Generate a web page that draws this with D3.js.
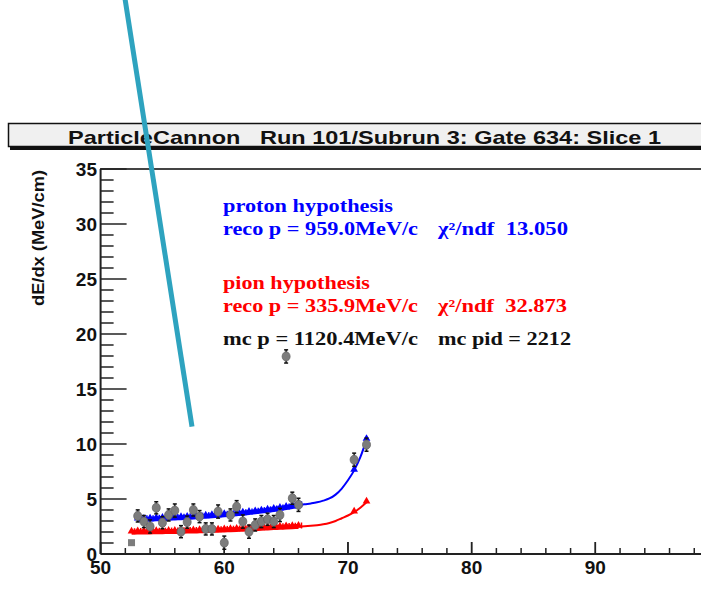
<!DOCTYPE html>
<html>
<head>
<meta charset="utf-8">
<script src="https://cdn.jsdelivr.net/npm/d3@7"></script>
<style>
  html, body { margin: 0; padding: 0; background: #fff; }
  svg { display: block; }
  svg text { white-space: pre; }
</style>
</head>
<body>
<svg id="chart" width="701" height="599"></svg>
<script>
// ---------------- data ----------------
const titleText = "ParticleCannon   Run 101/Subrun 3: Gate 634: Slice 1";
const yAxisTitle = "dE/dx (MeV/cm)";
const xMajorTicks = [50, 60, 70, 80, 90, 100];
const xTickLabels = ["50", "60", "70", "80", "90"];
const yMajorTicks = [0, 5, 10, 15, 20, 25, 30, 35];

// measured hits (range, dE/dx, error)
const hitX = [52.5, 53, 53.5, 54, 54.5, 55, 55.5, 56, 56.5, 57, 57.5, 58, 58.5, 59, 59.5, 60,
              60.5, 61, 61.5, 62, 62.5, 63, 63.5, 64, 64.5, 65, 65.5, 66, 70.5, 71.5];
const hitY = [1.03, 3.46, 2.95, 2.5, 4.2, 2.85, 3.55, 3.95, 2.03, 2.9, 4.0, 3.4, 2.28, 2.28, 3.86, 1.03,
              3.55, 4.3, 2.95, 2.03, 2.64, 2.95, 3.16, 2.95, 3.55, 17.96, 5.07, 4.47, 8.57, 9.94];
const hitErr = [0, 0.55, 0.55, 0.6, 0.55, 0.55, 0.55, 0.6, 0.55, 0.55, 0.55, 0.55, 0.55, 0.55, 0.6, 0.6,
                0.55, 0.55, 0.6, 0.6, 0.55, 0.55, 0.55, 0.55, 0.6, 0.6, 0.55, 0.6, 0.6, 0.6];
const hitShape = ["square"]; // first hit drawn as square, rest as circles

// proton hypothesis curve
const protonX = [53, 53.5, 54, 54.5, 55, 55.5, 56, 56.5, 57, 57.5, 58, 58.5, 59, 59.5, 60, 60.5, 61, 61.5,
                 62, 62.5, 63, 63.5, 64, 64.5, 65, 65.5, 66, 66.5, 67, 67.5, 68, 68.5, 69, 69.5, 70, 70.5, 71, 71.5];
const protonY = [3.15, 3.15, 3.17, 3.2, 3.22, 3.25, 3.28, 3.3, 3.33, 3.37, 3.4, 3.44, 3.48, 3.52, 3.56, 3.61, 3.66, 3.71,
                 3.77, 3.83, 3.9, 3.97, 4.05, 4.13, 4.22, 4.32, 4.43, 4.52, 4.6, 4.7, 4.85, 5.05, 5.4, 5.95, 6.7, 7.6, 8.8, 10.4];
// pion hypothesis curve
const pionX = [52.5, 53, 53.5, 54, 54.5, 55, 55.5, 56, 56.5, 57, 57.5, 58, 58.5, 59, 59.5, 60, 60.5, 61, 61.5,
               62, 62.5, 63, 63.5, 64, 64.5, 65, 65.5, 66, 66.5, 67, 67.5, 68, 68.5, 69, 69.5, 70, 70.5, 71, 71.5];
const pionY = [1.98, 2.0, 2.0, 2.01, 2.02, 2.03, 2.04, 2.05, 2.06, 2.08, 2.09, 2.11, 2.13, 2.15, 2.17, 2.19, 2.21, 2.23, 2.26,
               2.28, 2.31, 2.34, 2.37, 2.4, 2.43, 2.46, 2.48, 2.5, 2.52, 2.56, 2.62, 2.7, 2.82, 3.0, 3.25, 3.5, 3.8, 4.2, 4.7];
// x positions where the hypotheses carry a marker
const fitMarkerX = [52.5, 53, 53.5, 54, 54.5, 55, 55.5, 56, 56.5, 57, 57.5, 58, 58.5, 59, 59.5, 60,
                    60.5, 61, 61.5, 62, 62.5, 63, 63.5, 64, 64.5, 65, 65.5, 66, 70.5, 71.5];
const denseEndX = 66;

// annotation text
const protonLines = ["proton hypothesis", "reco p = 959.0MeV/c", "χ²/ndf  13.050"];
const pionLines = ["pion hypothesis", "reco p = 335.9MeV/c", "χ²/ndf  32.873"];
const mcLines = ["mc p = 1120.4MeV/c", "mc pid = 2212"];

// pointer line (data coords, drawn beyond the frame)
const pointerX = [51.97, 57.39];
const pointerY = [50.5, 11.58];

// ---------------- drawing ----------------
const svg = d3.select("#chart");
const W = 701, H = 599;
svg.append("rect").attr("width", W).attr("height", H).attr("fill", "#fff");

const x = d3.scaleLinear().domain([50, 100]).range([100.6, 719]);
const y = d3.scaleLinear().domain([0, 35]).range([554, 169]);

// title pave
const tb = svg.append("g");
tb.append("rect").attr("x", 10).attr("y", 126).attr("width", 720).attr("height", 24).attr("fill", "#111");
tb.append("rect").attr("x", 8.5).attr("y", 123.5).attr("width", 720).attr("height", 23)
  .attr("fill", "#f0f0f0").attr("stroke", "#111").attr("stroke-width", 1.5);
tb.append("text").attr("x", 68).attr("y", 143.5)
  .attr("font-family", "Arial, 'Liberation Sans', sans-serif").attr("font-weight", "bold")
  .attr("font-size", 19).attr("fill", "#111")
  .attr("textLength", 593).attr("lengthAdjust", "spacingAndGlyphs")
  .text(titleText);

// frame top
svg.append("line").attr("x1", 100).attr("x2", W).attr("y1", 169).attr("y2", 169)
  .attr("stroke", "#444").attr("stroke-width", 2);

// axes
const axG = svg.append("g").attr("stroke", "#222");
axG.append("line").attr("x1", x(50)).attr("x2", x(50)).attr("y1", y(0)).attr("y2", y(35)).attr("stroke-width", 2);
axG.append("line").attr("x1", x(50)).attr("x2", W).attr("y1", y(0)).attr("y2", y(0)).attr("stroke-width", 2);

// y ticks
const yMinor = d3.range(0, 36, 1);
axG.selectAll("line.ytick").data(yMinor).join("line")
  .attr("x1", x(50)).attr("x2", d => x(50) + (d % 5 === 0 ? 26 : 13))
  .attr("y1", d => y(d)).attr("y2", d => y(d)).attr("stroke-width", 1.5);
// x ticks
axG.selectAll("line.xtick").data(d3.range(50, 101, 2).concat(xMajorTicks)).join("line")
  .attr("x1", d => x(d)).attr("x2", d => x(d))
  .attr("y1", y(0)).attr("y2", d => y(0) - (d % 10 === 0 ? 12 : 6)).attr("stroke-width", 1.5);

// tick labels
const lblFont = "Arial, 'Liberation Sans', sans-serif";
svg.selectAll("text.ylbl").data(yMajorTicks).join("text")
  .attr("x", 97).attr("y", d => y(d)).attr("dy", "0.36em")
  .attr("text-anchor", "end").attr("font-family", lblFont).attr("font-weight", "bold")
  .attr("font-size", 19).attr("fill", "#111").text(d => d);
svg.selectAll("text.xlbl").data(xTickLabels).join("text")
  .attr("x", d => x(+d)).attr("y", 574)
  .attr("text-anchor", "middle").attr("font-family", lblFont).attr("font-weight", "bold")
  .attr("font-size", 19).attr("fill", "#111").text(d => d);

// y axis title
svg.append("text").attr("transform", "translate(44,238) rotate(-90)")
  .attr("text-anchor", "middle").attr("font-family", lblFont).attr("font-weight", "bold")
  .attr("font-size", 16).attr("fill", "#111")
  .attr("textLength", 136).attr("lengthAdjust", "spacingAndGlyphs")
  .text(yAxisTitle);

// hypothesis curves
const line = d3.line().x(d => x(d[0])).y(d => y(d[1])).curve(d3.curveMonotoneX);
function drawHyp(xs, ys, color) {
  const pts = xs.map((v, i) => [v, ys[i]]);
  const g = svg.append("g");
  g.append("path").datum(pts).attr("d", line).attr("fill", "none")
    .attr("stroke", color).attr("stroke-width", 2);
  g.append("path").datum(pts.filter(p => p[0] <= denseEndX)).attr("d", line).attr("fill", "none")
    .attr("stroke", color).attr("stroke-width", 5);
  const tri = d3.symbol().type(d3.symbolTriangle).size(26);
  const mk = pts.filter(p => fitMarkerX.includes(p[0]));
  g.selectAll("path.mk").data(mk).join("path")
    .attr("d", tri).attr("transform", p => `translate(${x(p[0])},${y(p[1]) - 1})`)
    .attr("fill", color);
  g.selectAll("line.tk").data(pts.filter(p => p[0] <= denseEndX)).join("line")
    .attr("x1", p => x(p[0]) + 3).attr("x2", p => x(p[0]) + 3)
    .attr("y1", p => y(p[1]) - 4).attr("y2", p => y(p[1]) + 2)
    .attr("stroke", color).attr("stroke-width", 1.5);
}
drawHyp(pionX, pionY, "#ff0000");
drawHyp(protonX, protonY, "#0000ff");

// hits
const hits = hitX.map((v, i) => ({ x: v, y: hitY[i], e: hitErr[i], s: hitShape[i] || "circle" }));
const hg = svg.append("g");
const withErr = hits.filter(h => h.e > 0);
hg.selectAll("line.err").data(withErr).join("line")
  .attr("x1", h => x(h.x)).attr("x2", h => x(h.x))
  .attr("y1", h => y(h.y - h.e)).attr("y2", h => y(h.y + h.e))
  .attr("stroke", "#111").attr("stroke-width", 1.5);
hg.selectAll("line.capT").data(withErr).join("line")
  .attr("x1", h => x(h.x) - 2).attr("x2", h => x(h.x) + 2)
  .attr("y1", h => y(h.y + h.e)).attr("y2", h => y(h.y + h.e))
  .attr("stroke", "#111").attr("stroke-width", 1.5);
hg.selectAll("line.capB").data(withErr).join("line")
  .attr("x1", h => x(h.x) - 2).attr("x2", h => x(h.x) + 2)
  .attr("y1", h => y(h.y - h.e)).attr("y2", h => y(h.y - h.e))
  .attr("stroke", "#111").attr("stroke-width", 1.5);
hg.selectAll("ellipse.hit").data(hits.filter(h => h.s === "circle")).join("ellipse")
  .attr("cx", h => x(h.x)).attr("cy", h => y(h.y)).attr("rx", 4).attr("ry", 4.6)
  .attr("fill", "#7c7c7c").attr("stroke", "#666").attr("stroke-width", 0.8);
hg.selectAll("rect.hit").data(hits.filter(h => h.s === "square")).join("rect")
  .attr("x", h => x(h.x) - 3.5).attr("y", h => y(h.y) - 3.5).attr("width", 7).attr("height", 7)
  .attr("fill", "#7c7c7c");

// annotation text
const serif = "'Times New Roman', 'Liberation Serif', serif";
function tline(txt, xx, yy, len, color) {
  svg.append("text").attr("x", xx).attr("y", yy)
    .attr("font-family", serif).attr("font-weight", "bold").attr("font-size", 18)
    .attr("fill", color).attr("textLength", len).attr("lengthAdjust", "spacingAndGlyphs")
    .text(txt);
}
tline(protonLines[0], 223, 212, 170, "#0000ff");
tline(protonLines[1], 223, 235, 195, "#0000ff");
tline(protonLines[2], 438, 235, 130, "#0000ff");
tline(pionLines[0], 223, 289, 147, "#ff0000");
tline(pionLines[1], 223, 312, 195, "#ff0000");
tline(pionLines[2], 438, 312, 129, "#ff0000");
tline(mcLines[0], 223, 345, 195, "#111");
tline(mcLines[1], 438, 345, 133, "#111");

// pointer line overlay
svg.append("line")
  .attr("x1", x(pointerX[0])).attr("y1", y(pointerY[0]))
  .attr("x2", x(pointerX[1])).attr("y2", y(pointerY[1]))
  .attr("stroke", "#2ea3bf").attr("stroke-width", 5);
</script>
</body>
</html>
